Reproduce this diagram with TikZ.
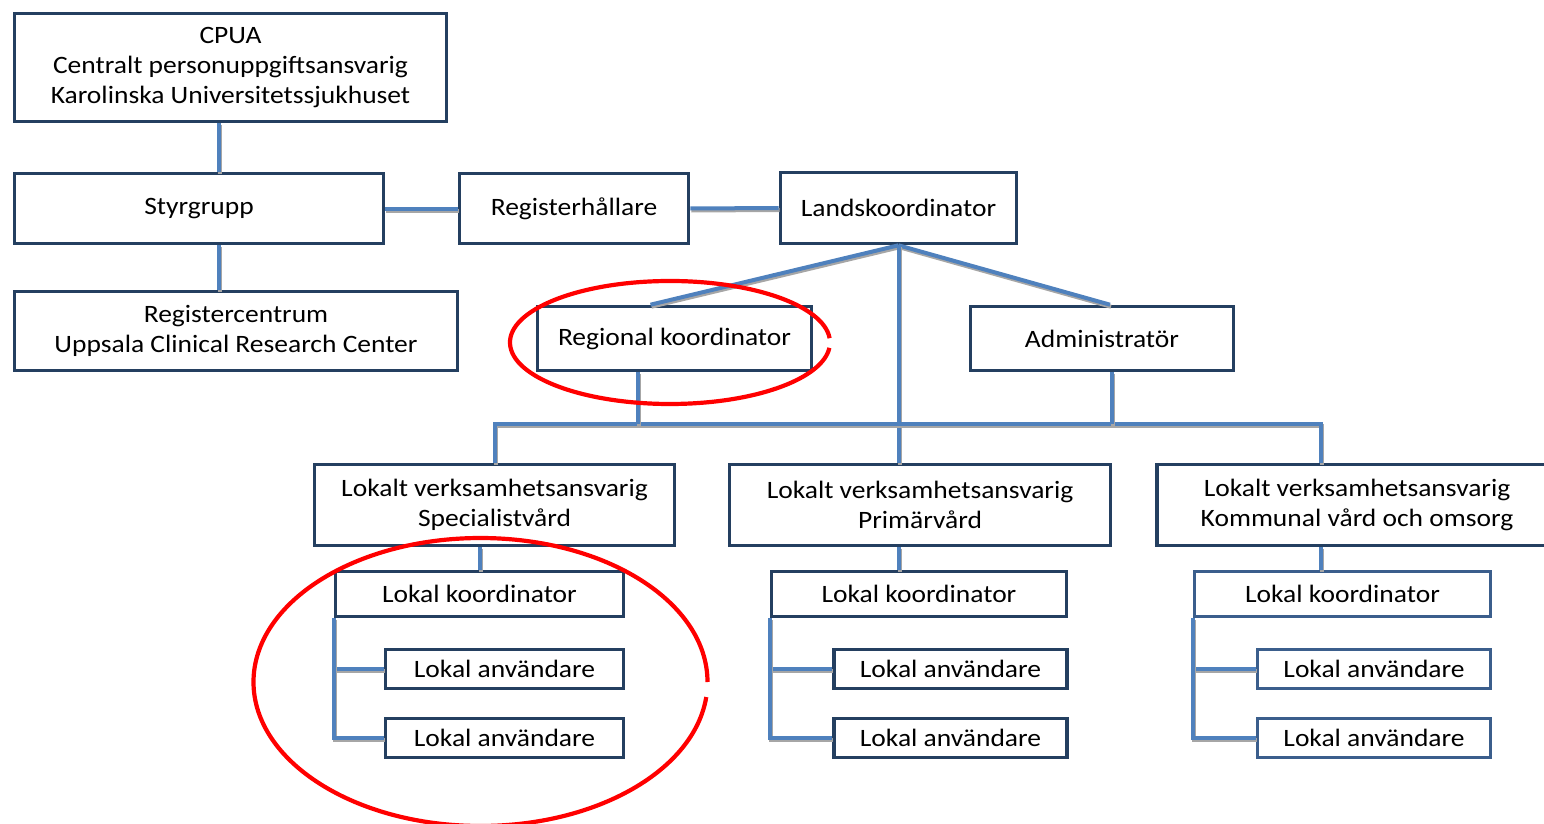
\documentclass[tikz,border=0pt]{standalone}
\usepackage{fontspec}
\setmainfont{Carlito}[FakeStretch=1.1]
\usetikzlibrary{calc}
\definecolor{boxnavy}{RGB}{36,63,96}
\definecolor{boxsteel}{RGB}{59,94,140}
\definecolor{linkblue}{RGB}{79,129,189}
\tikzset{
  unit/.style={draw=boxnavy, line width=3.6pt, fill=white, inner sep=0pt, align=center,
    font=\fontsize{25}{30}\selectfont},
  link/.style={draw=linkblue, line width=4pt,
    preaction={draw=gray!70, line width=4pt, transform canvas={shift={(1pt,-2pt)}}}},
  ring/.style={draw=red, line width=4.2pt}
}

\begin{document}
\begin{tikzpicture}[x=1pt,y=-1pt]
  \useasboundingbox (0,0) rectangle (1544,824);
  % upper part
  \node[unit, minimum width=432pt, minimum height=108pt] (cpua) at (230.5,67.5) {CPUA\\Centralt personuppgiftsansvarig\\Karolinska Universitetssjukhuset};
  \node[unit, minimum width=369pt, minimum height=70pt] (styr) at (199,208.5) {Styrgrupp};
  \node[unit, minimum width=443pt, minimum height=79pt] (regc) at (236,331) {Registercentrum\\Uppsala Clinical Research Center};
  \node[unit, minimum width=229pt, minimum height=70pt] (regh) at (574,208.5) {Registerhållare};
  \node[unit, minimum width=236pt, minimum height=71pt] (land) at (898.5,208) {Landskoordinator};
  \node[unit, minimum width=274pt, minimum height=64pt] (regk) at (674.5,338.5) {Regional koordinator};
  \node[unit, minimum width=263pt, minimum height=64pt] (adm) at (1102,338.5) {Administratör};
  \node[unit, minimum width=360pt, minimum height=81pt] (spec) at (494.5,505) {Lokalt verksamhetsansvarig\\Specialistvård};
  \node[unit, minimum width=381pt, minimum height=81pt] (prim) at (920,505) {Lokalt verksamhetsansvarig\\Primärvård};
  \node[unit, minimum width=400pt, minimum height=81pt] (komm) at (1357,505) {Lokalt verksamhetsansvarig\\Kommunal vård och omsorg};
  \coordinate (spine) at (219,0);
  \coordinate (kdrop) at (1321,0);
  \coordinate (bus) at (0,424);
  \draw[link] (cpua.south -| spine) -- (styr.north -| spine);
  \draw[link] (styr.south -| spine) -- (regc.north -| spine);
  \draw[link] (styr.east) -- (regh.west);
  \draw[link] (regh.east) -- (land.west);
  \draw[link] (land.south) -- ($(regk.north)+(-24,0)$);
  \draw[link] (land.south) -- ($(adm.north)+(8,0)$);
  \draw[link] (land.south) -- (land.south |- prim.north);
  \draw[link] (spec.north) |- (bus -| kdrop) -- (komm.north -| kdrop);
  \draw[link] ($(regk.south)+(-36.5,0)$) -- ($(regk.south |- bus)+(-36.5,0)$);
  \draw[link] ($(adm.south)+(10,0)$) -- ($(adm.south |- bus)+(10,0)$);
  % lower part, one column per unit
  \foreach \c/\kx/\kw/\ux/\uw/\col in {1/479.5/288/504.5/238/boxnavy, 2/919/295/950.5/233/boxnavy, 3/1342.5/296/1374/233/boxsteel} {
    \node[unit, draw=\col, minimum width=\kw pt, minimum height=45pt] (lk\c) at (\kx,594) {Lokal koordinator};
    \node[unit, draw=\col, minimum width=\uw pt, minimum height=39pt] (useA\c) at (\ux,669) {Lokal användare};
    \node[unit, draw=\col, minimum width=\uw pt, minimum height=39pt] (useB\c) at (\ux,738) {Lokal användare};
    \draw[link] (lk\c.south west) |- (useA\c.west);
    \draw[link] (lk\c.south west) |- (useB\c.west);
  }
  \draw[link] (lk1.north |- spec.south) -- (lk1.north);
  \draw[link] (land.south |- prim.south) -- (land.south |- lk2.north);
  \draw[link] (komm.south -| kdrop) -- (lk3.north -| kdrop);
  % red marks
  \draw[ring] (829.6,338.2) arc[start angle=4, end angle=355, x radius=160pt, y radius=61.5pt];
  \draw[ring] (707.5,682) arc[start angle=0, end angle=354, x radius=227pt, y radius=144pt];
\end{tikzpicture}
\end{document}
